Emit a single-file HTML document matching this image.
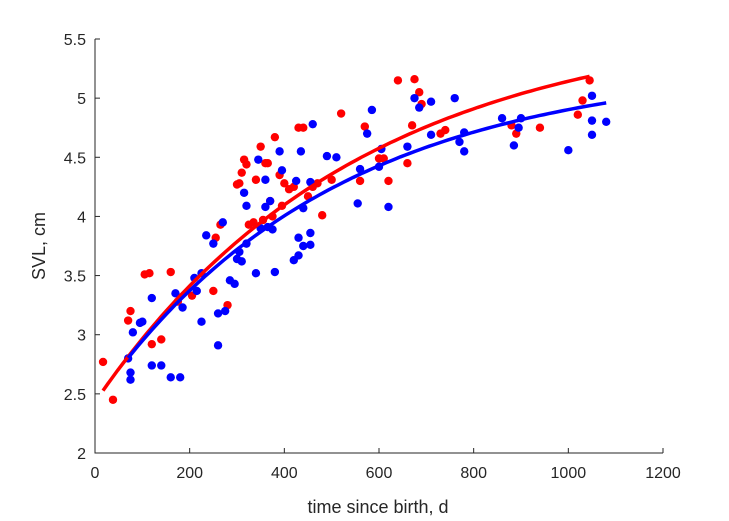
<!DOCTYPE html>
<html><head><meta charset="utf-8"><style>
body{margin:0;background:#fff}
svg{display:block;font-family:"Liberation Sans",Arial,sans-serif}
</style></head><body>
<svg id="chart" width="729" height="521" viewBox="0 0 729 521">
<rect width="729" height="521" fill="#fff"/>
<g id="marks"></g>
<g id="axes"></g>
<text x="378" y="513" font-size="18" fill="#262626" text-anchor="middle">time since birth, d</text>
<text transform="translate(45,246) rotate(-90)" font-size="18" fill="#262626" text-anchor="middle">SVL, cm</text>
</svg>
<script>
const xTicks=[0,200,400,600,800,1000,1200];
const yTicks=[2,2.5,3,3.5,4,4.5,5,5.5];
const yTickLabels=["2","2.5","3","3.5","4","4.5","5","5.5"];
const redX=[17,38,70,75,105,115,120,140,160,175,205,250,255,265,280,300,305,310,315,320,325,335,340,350,355,360,365,370,375,380,390,395,400,410,420,430,440,450,460,470,480,500,520,560,570,600,610,620,640,660,670,675,685,690,730,740,880,890,940,1020,1030,1045];
const redY=[2.77,2.45,3.12,3.2,3.51,3.52,2.92,2.96,3.53,3.28,3.33,3.37,3.82,3.93,3.25,4.27,4.28,4.37,4.48,4.44,3.93,3.95,4.31,4.59,3.97,4.45,4.45,4.13,4.0,4.67,4.35,4.09,4.28,4.23,4.25,4.75,4.75,4.17,4.25,4.28,4.01,4.31,4.87,4.3,4.76,4.49,4.49,4.3,5.15,4.45,4.77,5.16,5.05,4.95,4.7,4.73,4.77,4.7,4.75,4.86,4.98,5.15];
const blueX=[70,75,75,80,95,100,120,120,140,160,170,180,185,210,215,225,225,235,250,260,260,270,275,285,295,300,305,310,315,320,320,340,345,350,360,360,365,370,375,380,390,395,420,425,430,430,435,440,440,455,455,455,460,490,510,555,560,575,585,600,605,620,660,675,685,710,710,760,770,780,780,860,885,895,900,1000,1050,1050,1050,1080];
const blueY=[2.8,2.68,2.62,3.02,3.1,3.11,3.31,2.74,2.74,2.64,3.35,2.64,3.23,3.48,3.37,3.52,3.11,3.84,3.77,3.18,2.91,3.95,3.2,3.46,3.43,3.64,3.7,3.62,4.2,4.09,3.77,3.52,4.48,3.9,4.08,4.31,3.91,4.13,3.89,3.53,4.55,4.39,3.63,4.3,3.67,3.82,4.55,4.07,3.75,3.86,3.76,4.29,4.78,4.51,4.5,4.11,4.4,4.7,4.9,4.42,4.57,4.08,4.59,5.0,4.92,4.69,4.97,5.0,4.63,4.55,4.71,4.83,4.6,4.75,4.83,4.56,5.02,4.69,4.81,4.8];
// von Bertalanffy fit params [Linf, a, k, tStart, tEnd]
const redFit=[5.68,3.25,0.0018,17,1045];
const blueFit=[5.29,2.86,0.002,70,1080];

const X0=95,X1=663,Y0=453,Y1=39;
const sx=v=>X0+(v-0)/1200*(X1-X0);
const sy=v=>Y0-(v-2)/3.5*(Y0-Y1);
const NS="http://www.w3.org/2000/svg";
const marks=document.getElementById('marks');
const axes=document.getElementById('axes');
function mk(tag,attrs,parent){const e=document.createElementNS(NS,tag);for(const k in attrs)e.setAttribute(k,attrs[k]);parent.appendChild(e);return e;}

function dots(xs,ys,color,name){
  for(let i=0;i<xs.length;i++){
    const c=mk('circle',{cx:sx(xs[i]),cy:sy(ys[i]),r:4.2,fill:color},marks);
    
    
  }
}
function curve(p,color,name){
  let d='';
  for(let t=p[3];t<=p[4]+0.01;t+=(p[4]-p[3])/100){
    const v=p[0]-p[1]*Math.exp(-p[2]*t);
    d+=(d?'L':'M')+sx(t).toFixed(1)+','+sy(v).toFixed(1);
  }
  const e=mk('path',{d:d,fill:'none',stroke:color,'stroke-width':3.5},marks);
  
  
}
dots(redX,redY,'#ff0000','red-point');
dots(blueX,blueY,'#0000ff','blue-point');
curve(redFit,'#ff0000','red-fit-line');
curve(blueFit,'#0000ff','blue-fit-line');

const ax=mk('path',{d:`M${X0},${Y1}V${Y0}H${X1}`,fill:'none',stroke:'#262626','stroke-width':1},axes);


xTicks.forEach(v=>{
  const x=sx(v);
  const tk=mk('line',{x1:x,x2:x,y1:Y0,y2:Y0-5,stroke:'#262626'},axes);
  
  
  const t=mk('text',{x:x,y:Y0+25,'font-size':16,fill:'#262626','text-anchor':'middle'},axes);
  t.textContent=String(v);
  
  
});
yTicks.forEach((v,i)=>{
  const y=sy(v);
  const tk=mk('line',{x1:X0,x2:X0+5,y1:y,y2:y,stroke:'#262626'},axes);
  
  
  const t=mk('text',{x:X0-9,y:y+6,'font-size':16,fill:'#262626','text-anchor':'end'},axes);
  t.textContent=yTickLabels[i];
  
  
});
</script>
</body></html>
